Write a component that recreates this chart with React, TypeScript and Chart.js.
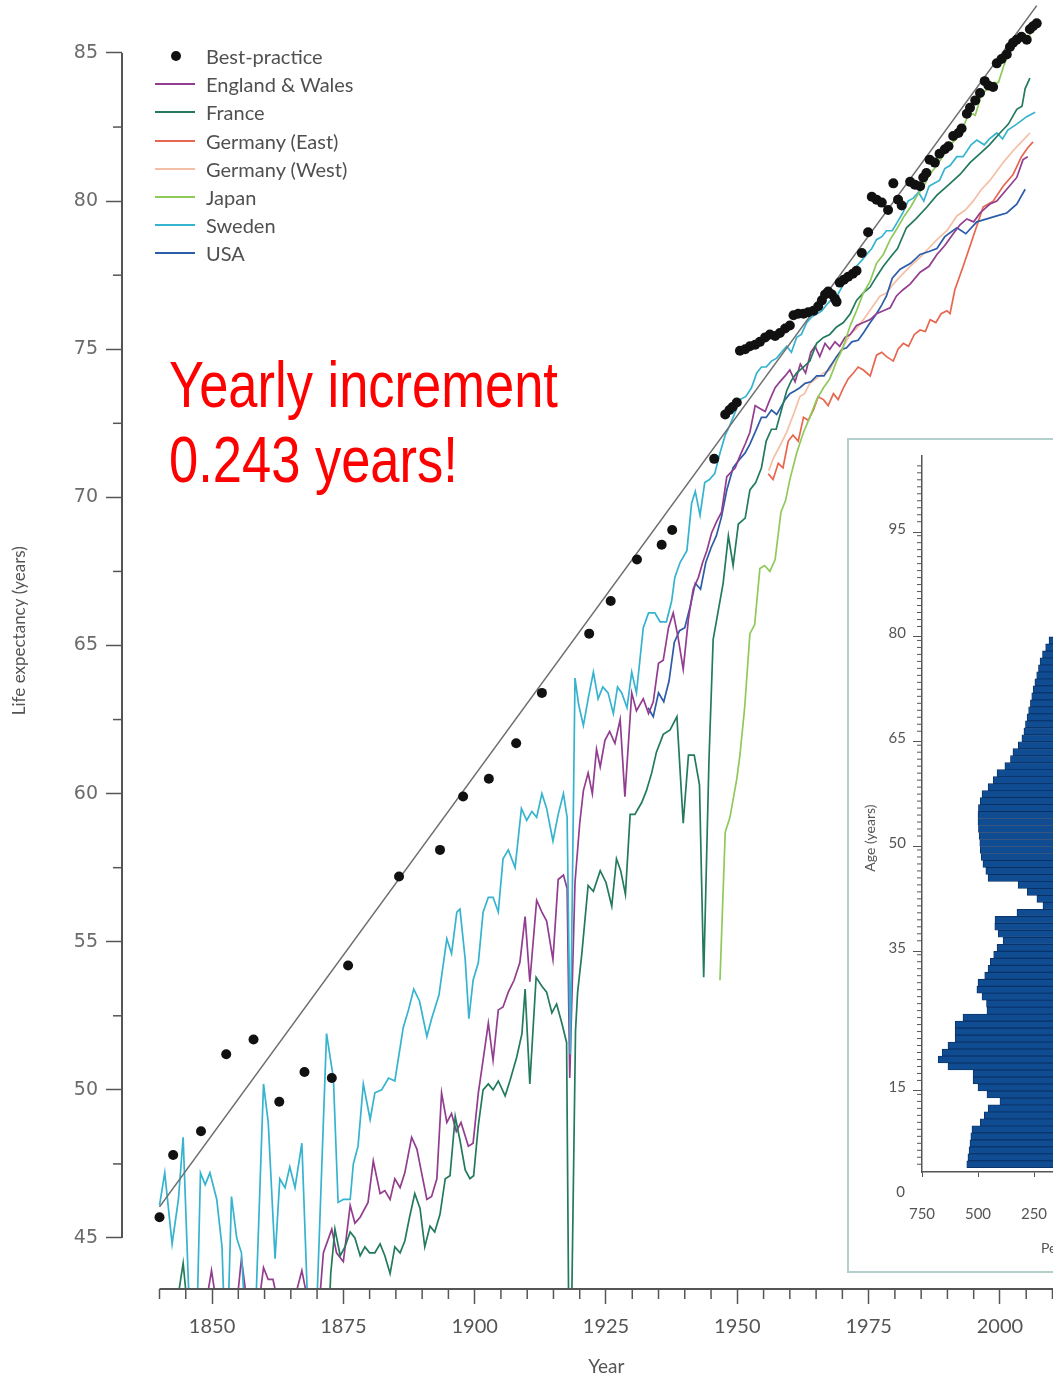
import React, { useEffect, useRef } from "react";
import { Chart, registerables } from "chart.js";

Chart.register(...registerables);

type Pt = [number, number];

// ---------------- data (year, life expectancy) ----------------
const bestPractice: Pt[] = [
  [1840, 45.7], [1842.6, 47.8], [1847.9, 48.6], [1852.7, 51.2], [1857.9, 51.7], [1862.8, 49.6], [1867.6, 50.6],
  [1872.8, 50.4], [1875.9, 54.2], [1885.6, 57.2], [1893.4, 58.1], [1897.8, 59.9], [1902.7, 60.5], [1907.9, 61.7],
  [1912.8, 63.4], [1921.8, 65.4], [1925.9, 66.5], [1930.9, 67.9], [1935.6, 68.4], [1937.6, 68.9], [1945.6, 71.3],
  [1947.7, 72.8], [1948.5, 72.95], [1949.1, 73.05], [1949.9, 73.2], [1950.5, 74.95], [1951.5, 75.0], [1952.4, 75.1],
  [1953.4, 75.15], [1954.3, 75.25], [1955.3, 75.4], [1956.2, 75.5], [1957.2, 75.45], [1958.1, 75.55], [1959.1, 75.7],
  [1960, 75.8], [1960.7, 76.15], [1961.6, 76.2], [1962.6, 76.2], [1963.5, 76.25], [1964.5, 76.3], [1965.4, 76.45],
  [1966.1, 76.65], [1966.7, 76.85], [1967.3, 76.95], [1968, 76.85], [1968.6, 76.7], [1968.9, 76.6], [1969.5, 77.25],
  [1970.3, 77.35], [1971.1, 77.45], [1972, 77.55], [1972.7, 77.65], [1973.7, 78.25], [1974.9, 78.95], [1975.6, 80.15],
  [1976.5, 80.05], [1977.5, 79.95], [1978.7, 79.7], [1979.7, 80.6], [1980.6, 80.05], [1981.3, 79.85], [1982.9, 80.65],
  [1983.8, 80.55], [1984.8, 80.5], [1985.4, 80.8], [1986, 80.95], [1986.6, 81.4], [1987.6, 81.3], [1988.5, 81.6],
  [1989.5, 81.75], [1990.2, 81.85], [1991.1, 82.2], [1992.1, 82.3], [1992.7, 82.45], [1993.7, 82.95], [1994.3, 83.15],
  [1995.3, 83.4], [1996.2, 83.65], [1997.1, 84.05], [1997.8, 83.9], [1998.7, 83.85], [1999.4, 84.65], [2000.3, 84.8],
  [2001.3, 84.95], [2001.9, 85.2], [2002.5, 85.35], [2003.2, 85.45], [2004.1, 85.55], [2005.1, 85.45], [2005.7, 85.8],
  [2006.3, 85.9], [2007, 86.0],
];

const bestPracticeTrend: Pt[] = [[1840, 46.05], [2007, 86.6]];

const englandWales: Pt[] = [
  [1841, 42.6], [1842.5, 42.1], [1844, 42.4], [1845.5, 41.9], [1847, 42.2], [1848.5, 42.4], [1849.9, 43.9], [1851, 42.6],
  [1852.2, 42.7], [1853.5, 42.1], [1854.5, 42.4], [1855.6, 44.3], [1856.6, 42.9], [1857.6, 42.6], [1858.8, 42.6],
  [1859.8, 44.0], [1860.7, 43.6], [1861.6, 43.6], [1862.6, 42.8], [1864, 42.6], [1865.5, 42.8], [1867.1, 43.9],
  [1868.1, 43.0], [1869.2, 42.7], [1870.3, 42.5], [1871.2, 44.5], [1872.8, 45.3], [1873.7, 44.5], [1875, 44.2],
  [1876.3, 46.1], [1877.2, 45.5], [1878.2, 45.7], [1879.7, 46.2], [1880.7, 47.6], [1882, 46.5], [1882.9, 46.6],
  [1883.9, 46.3], [1884.8, 47.0], [1885.8, 46.7], [1886.7, 47.2], [1888, 48.4], [1889, 48.0], [1889.9, 47.2],
  [1890.9, 46.3], [1891.8, 46.4], [1892.8, 47.0], [1893.7, 49.9], [1894.7, 48.9], [1895.6, 49.2], [1896.5, 48.6],
  [1897.4, 48.9], [1898.8, 48.1], [1899.7, 48.2], [1900.7, 49.9], [1901.6, 51.0], [1902.6, 52.25], [1903.5, 51.0],
  [1904.5, 52.7], [1905.4, 52.8], [1906.4, 53.3], [1907.5, 53.7], [1908.6, 54.3], [1909.6, 55.85], [1910.5, 53.65],
  [1911.8, 56.4], [1912.8, 56.0], [1913.7, 55.7], [1914.9, 54.4], [1915.9, 57.1], [1916.9, 57.25], [1917.6, 56.8],
  [1918.1, 50.4], [1919.1, 57.0], [1920, 59.0], [1920.7, 60.1], [1921.6, 60.7], [1922.4, 60.0], [1923.2, 61.5],
  [1923.9, 60.9], [1924.8, 61.8], [1925.7, 62.1], [1926.7, 61.7], [1927.7, 62.5], [1928.6, 59.9], [1929.9, 63.4],
  [1930.8, 62.8], [1932.1, 63.2], [1933.1, 62.7], [1934, 63.1], [1935, 64.4], [1935.9, 64.5], [1936.9, 65.6],
  [1937.8, 66.1], [1938.7, 65.3], [1939.7, 64.2], [1940.7, 65.9], [1941.6, 66.9], [1942.6, 67.3], [1943.4, 67.8],
  [1944.2, 68.2], [1945.1, 68.8], [1946.1, 69.2], [1947, 69.5], [1948, 70.7], [1949.6, 71.0], [1950.5, 71.4],
  [1951.5, 71.8], [1952.4, 72.2], [1953.4, 73.1], [1954.3, 73.0], [1955.3, 72.9], [1956.2, 73.3], [1957.2, 73.7],
  [1958.1, 73.9], [1959.1, 74.1], [1960, 74.3], [1961, 73.9], [1962, 74.5], [1963, 74.2], [1964, 74.9], [1964.8, 75.1],
  [1965.7, 74.75], [1966.7, 75.2], [1967.6, 75.0], [1968.6, 75.25], [1969.5, 75.1], [1970.5, 75.4], [1971.5, 75.5],
  [1972.7, 75.8], [1974, 75.9], [1975.3, 76.0], [1976.5, 76.2], [1977.8, 76.3], [1979.1, 76.4], [1980.3, 76.8],
  [1981.5, 77.0], [1982.9, 77.2], [1984.8, 77.6], [1986.5, 77.8], [1988, 78.2], [1989.5, 78.5], [1991.1, 78.9],
  [1992.4, 79.2], [1993.7, 79.4], [1995, 79.3], [1996.2, 79.6], [1998.1, 79.9], [1999.4, 80.0], [2001.3, 80.4],
  [2003.2, 80.8], [2004.4, 81.4], [2005.3, 81.5],
];

const france: Pt[] = [
  [1840, 41.8], [1841.5, 42.6], [1843, 42.4], [1844.5, 44.15], [1845.5, 42.3], [1847, 41.0], [1848.5, 41.8], [1850, 42.6],
  [1852, 42.2], [1854, 40.5], [1856, 42.0], [1858, 42.3], [1859.5, 41.2], [1861, 42.8], [1863, 42.9], [1865, 42.2],
  [1867, 42.8], [1869, 42.0], [1870.5, 37.5], [1871.8, 40.5], [1872.6, 43.8], [1873.4, 45.3], [1874.4, 44.4],
  [1875.3, 44.7], [1876.3, 45.2], [1877.2, 45.0], [1878.2, 44.4], [1879.1, 44.7], [1880, 44.5], [1881, 44.5],
  [1882, 44.8], [1882.9, 44.4], [1883.9, 43.8], [1884.8, 44.7], [1885.8, 44.5], [1886.7, 44.9], [1887.6, 45.7],
  [1888.6, 46.5], [1889.6, 46.0], [1890.5, 44.7], [1891.5, 45.4], [1892.4, 45.2], [1893.4, 45.8], [1894.4, 47.0],
  [1895.3, 47.1], [1896.3, 49.1], [1897.2, 48.3], [1898.2, 47.3], [1899.1, 47.0], [1899.8, 47.1], [1900.7, 48.8],
  [1901.6, 50.0], [1902.6, 50.2], [1903.5, 50.0], [1904.5, 50.3], [1905.8, 49.8], [1906.7, 50.3], [1908, 51.1],
  [1909, 51.9], [1909.6, 53.4], [1910.5, 50.2], [1911.7, 53.8], [1912.8, 53.5], [1913.7, 53.3], [1914.7, 52.6],
  [1915.6, 52.9], [1916.6, 52.25], [1917.5, 51.6], [1918.1, 38.0], [1919.2, 52.0], [1919.6, 53.3], [1920.4, 54.6],
  [1921.6, 56.9], [1922.6, 56.7], [1923.9, 57.4], [1925, 57.0], [1926.1, 56.2], [1927, 57.8], [1927.8, 57.4],
  [1928.7, 56.6], [1929.6, 59.3], [1930.5, 59.3], [1931.8, 59.7], [1932.7, 60.1], [1933.7, 60.7], [1934.6, 61.4],
  [1935.9, 62.0], [1937.2, 62.15], [1938.5, 62.6], [1939.7, 59.0], [1940.7, 61.3], [1941.8, 61.3], [1942.8, 60.3],
  [1943.6, 53.8], [1944.6, 61.1], [1945.4, 65.2], [1946.4, 66.2], [1947.3, 67.1], [1948.3, 68.7], [1949.2, 67.7],
  [1950.2, 69.1], [1951.5, 69.3], [1952.4, 70.25], [1953.5, 70.5], [1954.6, 71.0], [1955.5, 71.9], [1956.5, 72.3],
  [1957.4, 72.3], [1958.4, 72.95], [1959.4, 73.6], [1960.3, 73.95], [1961.3, 74.2], [1962.6, 74.4], [1963.8, 74.6],
  [1965.1, 75.2], [1966.4, 75.4], [1967.6, 75.5], [1968.9, 75.75], [1970.2, 75.9], [1971.5, 76.2], [1972.7, 76.65],
  [1974, 76.9], [1975.3, 77.1], [1976.5, 77.45], [1977.8, 77.8], [1979.1, 78.1], [1980.5, 78.4], [1982.2, 79.1],
  [1984, 79.4], [1986.1, 79.8], [1988, 80.2], [1989.9, 80.5], [1992.4, 80.9], [1994.3, 81.3], [1996.2, 81.6],
  [1998, 81.9], [2000, 82.3], [2001.6, 82.6], [2003.2, 83.1], [2004.2, 83.2], [2004.8, 83.8], [2005.7, 84.15],
];

const germanyEast: Pt[] = [
  [1955.9, 70.8], [1956.8, 70.6], [1957.8, 71.15], [1958.7, 71.0], [1959.7, 71.9], [1960.6, 72.1], [1961.6, 71.9],
  [1962.6, 72.7], [1963.5, 72.6], [1964.5, 72.95], [1965.4, 73.4], [1966.4, 73.3], [1967.3, 73.1], [1968.3, 73.5],
  [1969.2, 73.3], [1970.2, 73.7], [1971.1, 74.0], [1972.1, 74.2], [1973, 74.4], [1974, 74.3], [1975.3, 74.1],
  [1976.5, 74.8], [1977.5, 74.9], [1978.4, 74.75], [1979.7, 74.6], [1980.6, 75.0], [1981.6, 75.2], [1982.6, 75.1],
  [1983.7, 75.5], [1984.8, 75.65], [1985.8, 75.6], [1986.7, 76.0], [1987.8, 75.9], [1988.8, 76.2], [1989.9, 76.3],
  [1990.5, 76.2], [1991.4, 77.0], [1993, 77.8], [1994.9, 78.8], [1996.8, 79.8], [1998.7, 80.0], [2000.6, 80.5],
  [2002.5, 80.9], [2004.1, 81.5], [2005.3, 81.8], [2006.3, 82.0],
];

const germanyWest: Pt[] = [
  [1956, 70.9], [1956.8, 71.3], [1958, 71.7], [1959.4, 72.2], [1960.7, 72.8], [1961.9, 73.4], [1962.8, 73.5],
  [1963.8, 73.85], [1965, 74.0], [1966.4, 74.2], [1967.6, 74.3], [1968.9, 74.75], [1970.2, 75.1], [1971.5, 75.5],
  [1972.7, 75.7], [1974, 76.0], [1975.6, 76.4], [1977.2, 76.8], [1978.4, 76.9], [1979.7, 77.2], [1981, 77.45],
  [1982.9, 77.8], [1984.8, 78.1], [1986.4, 78.4], [1988, 78.7], [1989.9, 79.0], [1991.8, 79.5], [1993.4, 79.7],
  [1994.9, 80.0], [1996.5, 80.4], [1998.1, 80.7], [2000.6, 81.3], [2002.5, 81.7], [2004.1, 82.0], [2005.7, 82.3],
];

const japan: Pt[] = [
  [1946.7, 53.7], [1947.7, 58.7], [1948.6, 59.2], [1949.9, 60.5], [1950.5, 61.3], [1951.4, 62.9], [1952.4, 65.4],
  [1953.3, 65.7], [1954.3, 67.6], [1955.2, 67.7], [1956.2, 67.5], [1957.2, 67.9], [1958.3, 69.5], [1959.2, 69.9],
  [1960, 70.6], [1961.3, 71.5], [1962.6, 72.2], [1963.8, 72.7], [1965.1, 73.3], [1966.4, 73.7], [1967.6, 74.0],
  [1968.9, 74.6], [1970, 75.0], [1971.5, 75.8], [1972.7, 76.3], [1974, 76.9], [1975.3, 77.3], [1976.5, 77.9],
  [1977.8, 78.2], [1979.1, 78.7], [1980.5, 79.1], [1981.8, 79.5], [1983, 79.8], [1984.3, 80.2], [1985.5, 80.5],
  [1986.6, 80.9], [1988, 81.2], [1989.4, 81.6], [1990.5, 81.9], [1991.7, 82.1], [1993, 82.5], [1994.2, 83.0],
  [1995.3, 82.9], [1996.5, 83.6], [1997.7, 83.8], [1998.7, 84.0], [1999.7, 84.0], [2000.8, 84.6], [2002, 85.2],
  [2003.2, 85.3], [2004.3, 85.6], [2005.3, 85.5], [2006.3, 85.8],
];

const sweden: Pt[] = [
  [1840, 46.1], [1841, 47.2], [1842.4, 44.8], [1843.6, 46.3], [1844.5, 48.4], [1845.8, 42.0], [1847.1, 42.0],
  [1847.8, 47.2], [1848.7, 46.8], [1849.6, 47.2], [1850.9, 46.3], [1851.9, 44.7], [1852.4, 42.0], [1853, 42.0],
  [1853.7, 46.4], [1854.7, 45.0], [1855.6, 44.5], [1856.4, 42.0], [1858.2, 42.0], [1859.8, 50.2], [1860.7, 48.9],
  [1862, 44.3], [1862.9, 47.0], [1863.9, 46.7], [1864.8, 47.4], [1865.8, 46.7], [1867.1, 48.2], [1868.3, 42.3],
  [1869.9, 42.5], [1871.8, 51.9], [1873.1, 50.4], [1874, 46.2], [1875, 46.3], [1876.3, 46.3], [1876.9, 47.5],
  [1877.8, 48.1], [1878.8, 50.2], [1880.1, 49.0], [1881, 49.9], [1882.3, 50.0], [1883.6, 50.4], [1884.8, 50.3],
  [1886.4, 52.1], [1887.4, 52.7], [1888.4, 53.4], [1889.5, 53.0], [1890.9, 51.8], [1891.8, 52.4], [1893.2, 53.2],
  [1894.7, 55.1], [1895.6, 54.6], [1896.6, 56.0], [1897.2, 56.1], [1898.2, 54.4], [1898.9, 52.4], [1899.7, 53.7],
  [1900.7, 54.3], [1901.6, 56.0], [1902.6, 56.5], [1903.5, 56.5], [1904.5, 56.0], [1905.4, 57.8], [1906.4, 58.1],
  [1907.7, 57.5], [1908.9, 59.5], [1909.9, 59.1], [1910.9, 59.4], [1911.8, 59.2], [1912.8, 60.0], [1913.7, 59.5],
  [1914.9, 58.4], [1915.9, 59.3], [1916.9, 60.0], [1917.6, 59.2], [1918.2, 51.2], [1919.1, 63.9], [1919.8, 63.0],
  [1920.7, 62.3], [1921.6, 63.2], [1922.6, 64.1], [1923.5, 63.2], [1924.4, 63.6], [1925.4, 63.4], [1926.4, 62.7],
  [1927.2, 63.6], [1928, 63.4], [1929, 62.9], [1929.9, 64.1], [1930.8, 63.4], [1932.1, 65.6], [1933.1, 66.1],
  [1934.3, 66.1], [1935.3, 65.8], [1936.5, 65.8], [1937.5, 66.5], [1938.1, 67.3], [1939.1, 67.8], [1940.4, 68.2],
  [1941.3, 69.8], [1942, 70.2], [1942.9, 69.4], [1943.8, 70.5], [1944.7, 70.6], [1945.7, 70.8], [1946.7, 71.5],
  [1947.7, 72.1], [1948.5, 72.4], [1949.2, 72.7], [1950.5, 73.3], [1951.6, 73.4], [1952.7, 73.7], [1953.7, 74.2],
  [1954.6, 74.4], [1955.5, 74.4], [1956.5, 74.6], [1957.5, 74.7], [1958.4, 74.9], [1959.4, 75.1], [1960.3, 74.9],
  [1961.3, 75.4], [1962.2, 75.5], [1963.2, 75.9], [1964.2, 76.1], [1965.2, 76.2], [1966.1, 76.3], [1967, 76.5],
  [1968, 76.7], [1969, 76.8], [1969.9, 77.1], [1970.8, 77.4], [1971.8, 77.6], [1972.7, 77.8], [1973.7, 78.0],
  [1974.6, 78.2], [1975.6, 78.4], [1976.5, 78.7], [1977.5, 78.8], [1978.4, 79.0], [1979.5, 79.0], [1980.5, 79.3],
  [1981.5, 79.6], [1982.5, 80.0], [1983.5, 80.1], [1984.5, 80.3], [1985.5, 80.0], [1986.5, 80.5], [1987.5, 80.6],
  [1988.5, 80.7], [1989.5, 81.1], [1990.5, 81.2], [1991.8, 81.5], [1993, 81.5], [1994.5, 81.9], [1995.6, 82.06],
  [1997, 81.9], [1998, 82.1], [1999.4, 82.3], [2000.5, 82.1], [2001.5, 82.4], [2003.2, 82.6], [2005.1, 82.85],
  [2006.7, 83.0],
];

const usa: Pt[] = [
  [1933, 62.9], [1934, 62.6], [1935, 63.4], [1936, 63.1], [1937, 63.8], [1938, 65.1], [1939, 65.5], [1940, 65.6],
  [1941, 66.3], [1942, 67.1], [1943, 66.9], [1944, 67.8], [1945, 68.3], [1946, 68.7], [1947, 69.35], [1948, 70.25],
  [1949.2, 71.0], [1950.5, 71.3], [1951.5, 71.5], [1952.4, 71.8], [1953.4, 72.2], [1954.6, 72.7], [1955.5, 72.7],
  [1956.5, 72.95], [1957.5, 72.8], [1959.1, 73.3], [1960, 73.5], [1961, 73.6], [1961.9, 73.7], [1962.9, 73.85],
  [1964, 73.9], [1965.1, 74.1], [1966.5, 74.1], [1967.6, 74.4], [1968.9, 74.75], [1970, 75.0], [1970.8, 75.05],
  [1971.8, 75.25], [1973, 75.3], [1974, 75.55], [1975.3, 75.9], [1976.5, 76.2], [1977.5, 76.5], [1978.4, 76.8],
  [1979.5, 77.4], [1981, 77.7], [1983, 77.9], [1984.8, 78.2], [1986.5, 78.3], [1988, 78.4], [1989.5, 78.8],
  [1991.8, 79.1], [1993.5, 78.9], [1995.6, 79.3], [1997.5, 79.4], [1999.4, 79.5], [2001.3, 79.6], [2003.2, 79.9],
  [2004.8, 80.4],
];

// axis ticks / labels
const yearTicks = Array.from({ length: 35 }, (_, i) => 1840 + 5 * i);
const yearTickLabels = [1850, 1875, 1900, 1925, 1950, 1975, 2000];
const lifeTicks = Array.from({ length: 17 }, (_, i) => 45 + 2.5 * i);
const lifeTickLabels = [45, 50, 55, 60, 65, 70, 75, 80, 85];

// inset population pyramid (left half)
const popAges = [
  4, 5, 6, 7, 8, 9, 10, 11, 12, 13, 14, 15, 16, 17, 18, 19, 20, 21, 22, 23, 24, 25, 26, 27, 28, 29, 30, 31, 32, 33, 34,
  35, 36, 37, 38, 39, 40, 41, 42, 43, 44, 45, 46, 47, 48, 49, 50, 51, 52, 53, 54, 55, 56, 57, 58, 59, 60, 61, 62, 63,
  64, 65, 66, 67, 68, 69, 70, 71, 72, 73, 74, 75, 76, 77, 78, 79,
];
const popValues = [
  550, 545, 540, 536, 532, 527, 490, 472, 455, 402, 460, 500, 522, 522, 634, 678, 660, 634, 602, 602, 602, 567, 460,
  462, 482, 505, 500, 470, 455, 445, 430, 415, 388, 410, 425, 424, 326, 210, 237, 280, 321, 455, 465, 478, 485, 490,
  492, 495, 498, 500, 500, 498, 490, 482, 455, 432, 415, 380, 355, 344, 320, 304, 295, 288, 281, 274, 266, 260, 254,
  246, 238, 230, 223, 212, 198, 183,
];
const ageTicks = Array.from({ length: 101 }, (_, i) => 4 + i);
const ageTickLabels = [15, 35, 50, 65, 80, 95];
const popTickLabels = [0, 250, 500, 750];

const COLORS = {
  best: "#111111",
  trend: "#6e6e6e",
  ew: "#923d8f",
  france: "#237a5c",
  gEast: "#e8654f",
  gWest: "#f5bfa5",
  japan: "#8fc95a",
  sweden: "#35b3cf",
  usa: "#2d5ca8",
};
const AXIS = "#555555";
const TXT = "#555555";
const CLEAR = "rgba(0,0,0,0)";

const legendItems = [
  { label: "Best-practice", color: COLORS.best, dot: true },
  { label: "England & Wales", color: COLORS.ew },
  { label: "France", color: COLORS.france },
  { label: "Germany (East)", color: COLORS.gEast },
  { label: "Germany (West)", color: COLORS.gWest },
  { label: "Japan", color: COLORS.japan },
  { label: "Sweden", color: COLORS.sweden },
  { label: "USA", color: COLORS.usa },
];

const xy = (pts: Pt[]) => pts.map(([x, y]) => ({ x, y }));
const zeroPadding = (s: any) => {
  s.paddingTop = 0;
  s.paddingBottom = 0;
  s.paddingLeft = 0;
  s.paddingRight = 0;
};

function MainChart() {
  const ref = useRef<HTMLCanvasElement>(null);
  useEffect(() => {
    const canvas = ref.current;
    if (!canvas) return;
    const line = (label: string, pts: Pt[], color: string) => ({
      label,
      data: xy(pts),
      borderColor: color,
      backgroundColor: color,
      borderWidth: 1.7,
      pointRadius: 0,
      showLine: true,
      fill: false,
      tension: 0,
    });
    const decor = {
      id: "mainDecor",
      afterDraw(chart: any) {
        const { ctx, chartArea } = chart;
        const xs = chart.scales.x;
        const ys = chart.scales.y;
        ctx.save();
        ctx.strokeStyle = AXIS;
        ctx.lineWidth = 2;
        ctx.beginPath();
        ctx.moveTo(chartArea.left, ys.getPixelForValue(85));
        ctx.lineTo(chartArea.left, ys.getPixelForValue(45));
        ctx.stroke();
        ctx.beginPath();
        ctx.moveTo(xs.getPixelForValue(yearTicks[0]), chartArea.bottom);
        ctx.lineTo(chartArea.right, chartArea.bottom);
        ctx.stroke();
        ctx.lineWidth = 1.5;
        for (const v of yearTicks) {
          if (yearTickLabels.includes(v)) continue;
          const px = xs.getPixelForValue(v);
          ctx.beginPath();
          ctx.moveTo(px, chartArea.bottom);
          ctx.lineTo(px, chartArea.bottom + 10);
          ctx.stroke();
        }
        for (const v of lifeTicks) {
          if (lifeTickLabels.includes(v)) continue;
          const py = ys.getPixelForValue(v);
          ctx.beginPath();
          ctx.moveTo(chartArea.left - 9, py);
          ctx.lineTo(chartArea.left, py);
          ctx.stroke();
        }
        ctx.fillStyle = TXT;
        ctx.textAlign = "center";
        ctx.textBaseline = "middle";
        ctx.font = "19px Lato, sans-serif";
        ctx.fillText("Year", (xs.getPixelForValue(yearTicks[0]) + chartArea.right) / 2, chartArea.bottom + 78);
        ctx.translate(20, ys.getPixelForValue(65.5));
        ctx.rotate(-Math.PI / 2);
        ctx.font = "17px Lato, sans-serif";
        ctx.fillText("Life expectancy (years)", 0, 0);
        ctx.restore();
      },
    };
    const chart = new Chart(canvas, {
      type: "line",
      data: {
        datasets: [
          {
            label: "Best-practice",
            data: xy(bestPractice),
            showLine: false,
            pointRadius: 5,
            pointBackgroundColor: COLORS.best,
            pointBorderWidth: 0,
            borderColor: COLORS.best,
            backgroundColor: COLORS.best,
          } as any,
          {
            label: "Best-practice trend",
            data: xy(bestPracticeTrend),
            borderColor: COLORS.trend,
            borderWidth: 1.6,
            pointRadius: 0,
            fill: false,
          },
          line("Japan", japan, COLORS.japan),
          line("France", france, COLORS.france),
          line("Sweden", sweden, COLORS.sweden),
          line("England & Wales", englandWales, COLORS.ew),
          line("USA", usa, COLORS.usa),
          line("Germany (East)", germanyEast, COLORS.gEast),
          line("Germany (West)", germanyWest, COLORS.gWest),
        ],
      },
      options: {
        animation: false,
        responsive: false,
        devicePixelRatio: 1,
        events: [],
        layout: { autoPadding: false, padding: { top: 4, left: 0, right: 0, bottom: 0 } },
        plugins: { legend: { display: false }, tooltip: { enabled: false } },
        scales: {
          x: {
            type: "linear",
            min: 1832.86,
            max: 2010.1,
            afterBuildTicks: (s: any) => {
              s.ticks = yearTicks.map((v) => ({ value: v }));
            },
            afterFit: (s: any) => {
              s.height = 94;
              zeroPadding(s);
            },
            border: { display: false },
            grid: {
              drawOnChartArea: false,
              drawTicks: true,
              tickLength: 15,
              tickWidth: 1.5,
              color: AXIS,
              tickColor: (c: any) => (c.tick && yearTickLabels.includes(c.tick.value) ? AXIS : CLEAR),
            },
            ticks: {
              autoSkip: false,
              maxRotation: 0,
              minRotation: 0,
              padding: 11,
              color: TXT,
              font: { family: "Lato", size: 20 },
              callback: (v: any) => (yearTickLabels.includes(Number(v)) ? String(v) : ""),
            },
          },
          y: {
            type: "linear",
            min: 43.278,
            max: 86.654,
            afterBuildTicks: (s: any) => {
              s.ticks = lifeTicks.map((v) => ({ value: v }));
            },
            afterFit: (s: any) => {
              s.width = 122;
              zeroPadding(s);
            },
            border: { display: false },
            grid: {
              drawOnChartArea: false,
              drawTicks: true,
              tickLength: 16,
              tickWidth: 1.5,
              color: AXIS,
              tickColor: (c: any) => (c.tick && lifeTickLabels.includes(c.tick.value) ? AXIS : CLEAR),
            },
            ticks: {
              autoSkip: false,
              padding: 8,
              color: "#6b6b6b",
              font: { family: "DejaVu Sans", size: 19 },
              callback: (v: any) => (lifeTickLabels.includes(Number(v)) ? String(v) : ""),
            },
          },
        },
      },
      plugins: [decor],
    } as any);
    return () => chart.destroy();
  }, []);
  return <canvas ref={ref} width={1053} height={1383} style={{ position: "absolute", left: 0, top: 0 }} />;
}

function InsetChart() {
  const ref = useRef<HTMLCanvasElement>(null);
  useEffect(() => {
    const canvas = ref.current;
    if (!canvas) return;
    const decor = {
      id: "insetDecor",
      afterDraw(chart: any) {
        const { ctx, chartArea } = chart;
        const xs = chart.scales.x;
        const ys = chart.scales.y;
        ctx.save();
        ctx.strokeStyle = AXIS;
        ctx.lineWidth = 1;
        for (const v of ageTicks) {
          if (ageTickLabels.includes(v)) continue;
          const py = ys.getPixelForValue(v);
          ctx.beginPath();
          ctx.moveTo(chartArea.left - 5, py);
          ctx.lineTo(chartArea.left, py);
          ctx.stroke();
        }
        ctx.fillStyle = TXT;
        ctx.font = "15px Lato, sans-serif";
        ctx.textAlign = "right";
        ctx.textBaseline = "middle";
        ctx.fillText("0", chartArea.left - 17, ys.getPixelForValue(0));
        ctx.textAlign = "left";
        ctx.font = "14px Lato, sans-serif";
        ctx.fillText("Persons (thousands)", xs.getPixelForValue(250) + 7, chartArea.bottom + 76);
        ctx.translate(chartArea.left - 52, ys.getPixelForValue(50.7));
        ctx.rotate(-Math.PI / 2);
        ctx.textAlign = "center";
        ctx.fillText("Age (years)", 0, 0);
        ctx.restore();
      },
    };
    const chart = new Chart(canvas, {
      type: "bar",
      data: {
        datasets: [
          {
            label: "Population",
            data: popAges.map((a, i) => ({ x: popValues[i], y: a })),
            backgroundColor: "#0f4c92",
            borderColor: "#0a2f60",
            borderWidth: 0.8,
            borderSkipped: false,
            categoryPercentage: 1,
            barPercentage: 1,
          } as any,
        ],
      },
      options: {
        indexAxis: "y",
        animation: false,
        responsive: false,
        devicePixelRatio: 1,
        events: [],
        layout: { autoPadding: false, padding: { top: 16, right: 9, left: 0, bottom: 0 } },
        plugins: { legend: { display: false }, tooltip: { enabled: false } },
        scales: {
          x: {
            type: "linear",
            reverse: true,
            min: 0,
            max: 750,
            afterBuildTicks: (s: any) => {
              s.ticks = popTickLabels.map((v) => ({ value: v }));
            },
            afterFit: (s: any) => {
              s.height = 99;
              zeroPadding(s);
            },
            border: { display: true, color: AXIS, width: 1.5 },
            grid: { drawOnChartArea: false, drawTicks: true, tickLength: 5, color: AXIS },
            ticks: {
              autoSkip: false,
              maxRotation: 0,
              padding: 28,
              color: TXT,
              font: { family: "Lato", size: 15 },
            },
          },
          y: {
            type: "linear",
            min: 3.4,
            max: 104.9,
            afterBuildTicks: (s: any) => {
              s.ticks = ageTicks.map((v) => ({ value: v }));
            },
            afterFit: (s: any) => {
              s.width = 73;
              zeroPadding(s);
            },
            border: { display: true, color: AXIS, width: 1.5 },
            grid: {
              drawOnChartArea: false,
              drawTicks: true,
              tickLength: 9,
              color: AXIS,
              tickColor: (c: any) => (c.tick && ageTickLabels.includes(c.tick.value) ? AXIS : CLEAR),
            },
            ticks: {
              autoSkip: false,
              padding: 7,
              color: TXT,
              font: { family: "Lato", size: 15 },
              callback: (v: any) => (ageTickLabels.includes(Number(v)) ? String(v) : ""),
            },
          },
        },
      },
      plugins: [decor],
    } as any);
    return () => chart.destroy();
  }, []);
  return <canvas ref={ref} width={250} height={831} style={{ position: "absolute", left: 0, top: 0 }} />;
}

function Legend() {
  return (
    <div
      style={{
        position: "absolute",
        left: 150,
        top: 42,
        fontFamily: "Lato, sans-serif",
        fontSize: 20,
        color: "#505050",
      }}
    >
      {legendItems.map((item) => (
        <div key={item.label} style={{ display: "flex", alignItems: "center", height: 28.2 }}>
          <div style={{ width: 50, height: 28, position: "relative" }}>
            {item.dot ? (
              <div
                style={{
                  position: "absolute",
                  left: 21,
                  top: 9,
                  width: 10,
                  height: 10,
                  borderRadius: 5,
                  background: item.color,
                }}
              />
            ) : (
              <div style={{ position: "absolute", left: 5, top: 13, width: 40, height: 2, background: item.color }} />
            )}
          </div>
          <span style={{ marginLeft: 6, lineHeight: "28px", whiteSpace: "nowrap" }}>{item.label}</span>
        </div>
      ))}
    </div>
  );
}

function Annotation() {
  return (
    <div
      style={{
        position: "absolute",
        left: 169,
        top: 348,
        color: "#ff0000",
        fontFamily: "'Liberation Sans', Arial, sans-serif",
        fontSize: 64,
        lineHeight: "75px",
        transform: "scaleX(0.82)",
        transformOrigin: "0 0",
        whiteSpace: "nowrap",
      }}
    >
      <div>Yearly increment</div>
      <div>0.243 years!</div>
    </div>
  );
}

export default function App() {
  useEffect(() => {
    document.body.style.margin = "0";
  }, []);
  return (
    <div
      style={{
        position: "absolute",
        left: 0,
        top: 0,
        width: 1053,
        height: 1383,
        overflow: "hidden",
        background: "#ffffff",
      }}
    >
      <MainChart />
      <Legend />
      <Annotation />
      <div
        style={{
          position: "absolute",
          left: 847,
          top: 438,
          width: 260,
          height: 835,
          border: "2px solid #b4d0cc",
          boxSizing: "border-box",
          background: "#ffffff",
          overflow: "hidden",
        }}
      >
        <InsetChart />
      </div>
    </div>
  );
}
